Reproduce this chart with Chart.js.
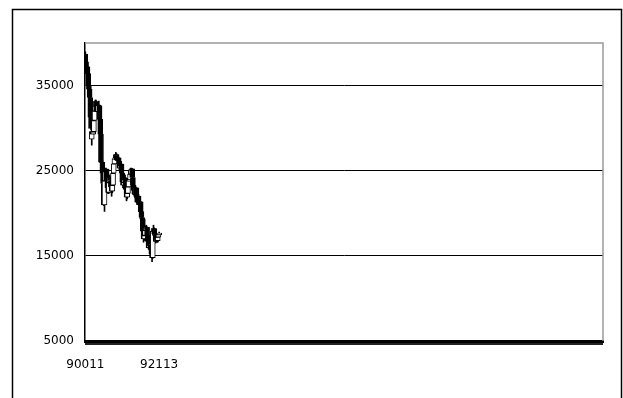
<!DOCTYPE html>
<html>
<head>
<meta charset="utf-8">
<script src="https://cdn.jsdelivr.net/npm/chart.js@4/dist/chart.umd.min.js"></script>
<style>
  body { margin: 0; background: #fff; }
  #wrap { width: 623px; height: 398px; }
</style>
</head>
<body>
<div id="wrap"><canvas id="chart" width="623" height="398"></canvas></div>
<script>
// 10-day periods (yymm + 1/2/3), Jan 1990 .. Nov 1992
const periods = [];
for (let y = 90; y <= 92; y++) {
  for (let m = 1; m <= 12; m++) {
    for (let d = 1; d <= 3; d++) {
      if (y === 92 && m > 11) continue;
      periods.push(String(y) + String(m).padStart(2, '0') + d);
    }
  }
}
const totalSlots = 730;          // the axis keeps going, empty
const shownLabels = ['90011', '92113'];
const yTicks = [5000, 15000, 25000, 35000];

const opens = [
  38712,37800,37200,37190,36400,35000,34590,33600,31300,28700,
  29600,29300,29580,30900,32000,33130,32500,32000,31940,32700,
  32600,31030,29300,26000,25980,24700,23500,20980,23800,24900,
  25190,23800,23000,22450,23600,24200,23850,23100,22600,23290,
  24700,25800,26410,26500,26900,26290,26200,26500,26110,25300,
  25600,25790,24700,23700,23290,23600,24000,24120,22800,21900,
  22340,23100,23800,23920,24600,25100,25220,24200,23300,22690,
  22300,22200,22980,22000,21300,22020,21200,21000,21340,20200,
  19500,19350,17900,17000,17390,18000,18300,18350,17400,16700,
  15950,16400,16200,15910,15200,14800,17900,18200,17600,17400,
  16700,17000,16770,17200,17500
];
const highs = [
  38950,38000,37600,37400,36600,35200,34900,33900,31500,29800,
  30500,29800,31000,32200,33300,33300,32900,32400,32800,33170,
  32700,31100,29400,26800,26200,25000,23700,24000,25200,25300,
  25200,24200,23300,23800,24500,24300,24000,23300,23500,24800,
  26000,26600,26800,27150,27000,26600,26800,26600,26200,25800,
  26000,25800,24800,23900,23800,24200,24500,24200,22900,22500,
  23300,24000,24100,24800,25300,25300,25250,24300,23400,23000,
  22600,23100,23000,22200,22100,22200,21600,21500,21400,20300,
  19600,19400,18000,17600,18200,18500,18600,18400,17500,16800,
  16600,16600,16300,15950,15300,18100,18600,18300,17900,17500,
  17200,17100,17300,17600,17800
];
const lows = [
  37700,36800,36600,36300,34800,33300,33300,31000,29800,28000,
  29100,28900,29500,30800,31900,32300,31800,31400,31800,32400,
  30800,29000,25500,23700,24500,23200,20900,20220,23300,24300,
  23500,22800,22300,22300,23300,23500,22900,22000,22400,23200,
  24600,25600,26000,26300,26000,25800,25900,25900,25100,25000,
  25400,24500,23500,23000,22900,23400,23700,22600,21460,21700,
  22200,22900,23400,23800,24400,24800,24000,23100,22500,22000,
  21800,22100,21800,21000,21100,21000,20700,20800,20000,19200,
  18800,17600,16600,16800,17300,17800,18000,17200,16400,15800,
  15700,15900,15600,15000,14310,14700,17600,17300,17200,16500,
  16600,16600,16600,17000,17300
];
const closes = [
  37800,37200,37190,36400,35000,34590,33600,31300,29980,29600,
  29300,29580,30900,32000,33130,32500,32000,31940,32700,32600,
  31030,29300,26000,25980,24700,23500,20980,23800,24900,25190,
  23800,23000,22450,23600,24200,23850,23100,22600,23290,24700,
  25800,26410,26500,26900,26290,26200,26500,26110,25300,25600,
  25790,24700,23700,23290,23600,24000,24120,22800,21900,22340,
  23100,23800,23920,24600,25100,25220,24200,23300,22690,22300,
  22200,22980,22000,21300,22020,21200,21000,21340,20200,19500,
  19350,17900,17000,17390,18000,18300,18350,17400,16700,15950,
  16400,16200,15910,15200,14800,17900,18200,17600,17400,16700,
  17000,16770,17200,17500,17680
];

const categories = periods.concat(new Array(totalSlots - periods.length).fill(''));
const bodies = opens.map((o, i) => [o, closes[i]]);
const wicks = lows.map((l, i) => [l, highs[i]]);
const bodyColors = opens.map((o, i) => closes[i] >= o ? '#ffffff' : '#000000');

// outer frame + grey top/right border of plot area
const frames = {
  id: 'frames',
  afterDraw(chart) {
    const c = chart.ctx, a = chart.chartArea;
    c.save();
    c.strokeStyle = '#999';
    c.lineWidth = 1.5;
    c.beginPath();
    c.moveTo(a.left, a.top);
    c.lineTo(a.right, a.top);
    c.lineTo(a.right, a.bottom);
    c.stroke();
    c.strokeStyle = '#000';
    c.lineWidth = 1.5;
    c.beginPath();
    c.moveTo(12.5, 402);
    c.lineTo(12.5, 9.5);
    c.lineTo(621.5, 9.5);
    c.lineTo(621.5, 402);
    c.stroke();
    c.restore();
  }
};

new Chart(document.getElementById('chart'), {
  type: 'bar',
  data: {
    labels: categories,
    datasets: [
      {
        data: bodies,
        grouped: false,
        order: 0,
        backgroundColor: bodyColors,
        borderColor: '#000',
        borderWidth: 1,
        borderSkipped: false,
        barThickness: 5
      },
      {
        data: wicks,
        grouped: false,
        order: 1,
        backgroundColor: '#000',
        borderWidth: 0,
        barThickness: 1
      }
    ]
  },
  options: {
    responsive: false,
    animation: false,
    layout: { padding: { top: 43, right: 20, left: 0, bottom: 0 } },
    plugins: { legend: { display: false }, tooltip: { enabled: false } },
    scales: {
      x: {
        afterFit: s => { s.height = 57; },
        border: { color: '#000', width: 3 },
        grid: { drawOnChartArea: false, drawTicks: true, tickLength: 4, color: '#222' },
        ticks: {
          autoSkip: false,
          maxRotation: 0,
          minRotation: 0,
          padding: 13,
          color: '#000',
          font: { family: 'DejaVu Sans', size: 12 },
          callback: (v, i) => shownLabels.includes(categories[i]) ? categories[i] : ''
        }
      },
      y: {
        min: 5000,
        max: 40000,
        afterFit: s => { s.width = 85; },
        afterBuildTicks: s => { s.ticks = yTicks.map(v => ({ value: v })); },
        border: { color: '#000', width: 1.5 },
        grid: { color: '#000', lineWidth: 1, drawTicks: false },
        ticks: {
          padding: 11,
          color: '#000',
          font: { family: 'DejaVu Sans', size: 12 },
          callback: v => String(v)
        }
      }
    }
  },
  plugins: [frames]
});
</script>
</body>
</html>
